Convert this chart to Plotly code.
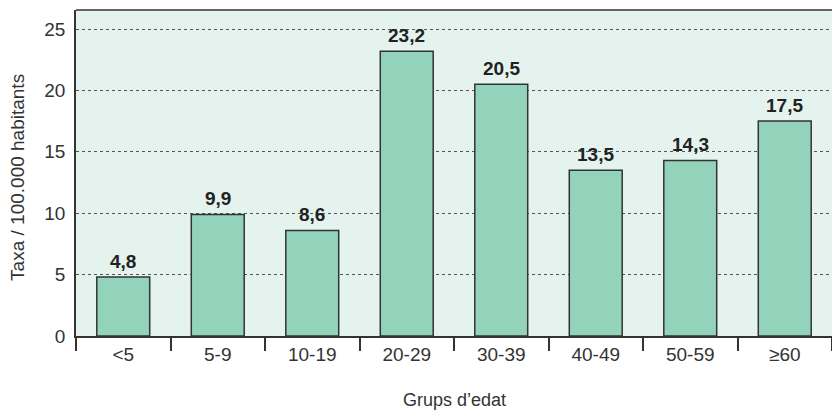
import plotly.graph_objects as go

categories = ["<5", "5-9", "10-19", "20-29", "30-39", "40-49", "50-59", "≥60"]
values = [4.8, 9.9, 8.6, 23.2, 20.5, 13.5, 14.3, 17.5]
labels = ["4,8", "9,9", "8,6", "23,2", "20,5", "13,5", "14,3", "17,5"]
yticks = [0, 5, 10, 15, 20, 25]

FONT = "Liberation Sans"
INK = "#333333"

fig = go.Figure()
fig.add_trace(go.Bar(
    x=categories, y=values,
    marker=dict(color="#94d3bb", line=dict(color=INK, width=1.5)),
    width=0.56,
))
for c, v, t in zip(categories, values, labels):
    fig.add_annotation(x=c, y=v, text=t, showarrow=False, yanchor="bottom", yshift=3,
                       font=dict(family=FONT, size=19, color="#222222", weight="bold"))
fig.add_annotation(text="Grups d’edat", xref="paper", yref="paper", x=0.5, y=0,
                   xanchor="center", yanchor="middle", yshift=-64, showarrow=False,
                   font=dict(family=FONT, size=18, color=INK))
fig.add_annotation(text="Taxa / 100.000 habitants", xref="paper", yref="paper", x=0, y=0.485,
                   xanchor="center", yanchor="middle", xshift=-58, textangle=-90, showarrow=False,
                   font=dict(family=FONT, size=19, color=INK))
fig.update_layout(
    width=832, height=410,
    margin=dict(l=76, r=0, t=10, b=74),
    paper_bgcolor="white", plot_bgcolor="#e4f3ee",
    showlegend=False,
    font=dict(family=FONT, color=INK),
)
fig.update_xaxes(
    tickson="boundaries", ticks="outside", ticklen=13, tickcolor=INK, tickwidth=1.5,
    showline=True, linecolor=INK, linewidth=1.5,
    tickfont=dict(size=19, color=INK), ticklabelstandoff=0,
    showgrid=False,
)
fig.update_yaxes(
    range=[0, 26.55], tickvals=yticks, ticks="",
    showline=True, linecolor=INK, linewidth=1.5,
    showgrid=True, gridcolor="#555555", griddash="dot", gridwidth=1,
    zeroline=False, ticklabelstandoff=5,
    tickfont=dict(size=19, color=INK),
)
fig.add_shape(type="line", xref="paper", yref="paper", x0=0, x1=1, y0=1, y1=1,
              line=dict(color=INK, width=1.5))
fig.write_html("out.html")
